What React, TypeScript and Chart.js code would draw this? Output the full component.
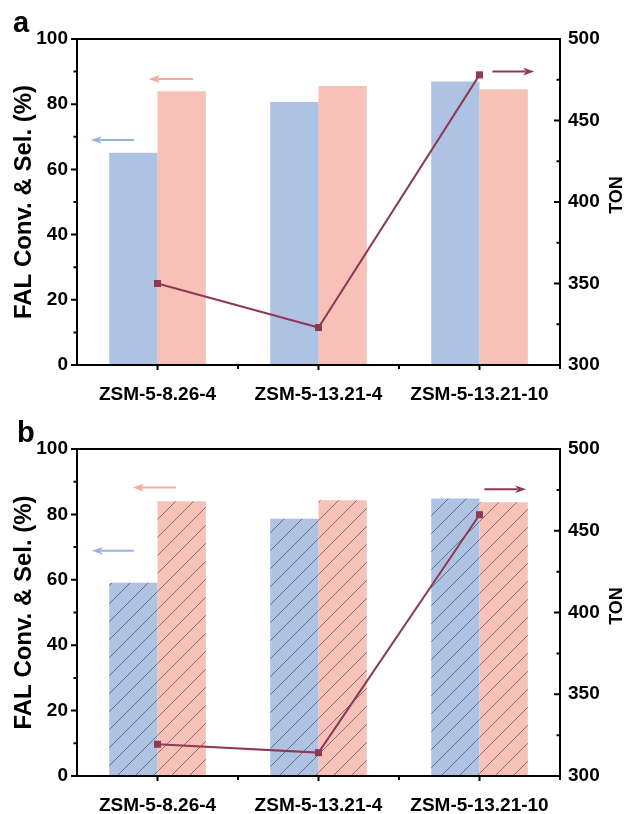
import React, { useEffect, useRef } from 'react';
import { Chart, registerables } from 'chart.js';
Chart.register(...registerables);

// ---------- data ----------
const categories = ['ZSM-5-8.26-4', 'ZSM-5-13.21-4', 'ZSM-5-13.21-10'];
const convA = [65.1, 80.7, 87.0];
const selA = [84.0, 85.6, 84.6];
const tonA = [350, 323, 478];
const convB = [59.1, 78.7, 84.9];
const selB = [84.0, 84.3, 83.7];
const tonB = [319.4, 314.3, 459.8];
const leftMin = 0, leftMax = 100, leftStep = 20;
const rightMin = 300, rightMax = 500, rightStep = 50;
const leftTitle = 'FAL Conv. & Sel. (%)';
const rightTitle = 'TON';

// arrow annotations: axis, value on that axis, tail/head in category index units
const arrowsA = [
  { axis: 'y', value: 69.0, tail: -0.147, head: -0.414, kind: 'blue' },
  { axis: 'y', value: 87.7, tail: 0.22, head: -0.054, kind: 'pink' },
  { axis: 'y1', value: 480, tail: 2.08, head: 2.34, kind: 'maroon' },
];
const arrowsB = [
  { axis: 'y', value: 68.9, tail: -0.147, head: -0.408, kind: 'blue' },
  { axis: 'y', value: 88.2, tail: 0.114, head: -0.153, kind: 'pink' },
  { axis: 'y1', value: 475.4, tail: 2.03, head: 2.29, kind: 'maroon' },
];

// ---------- styles ----------
const FONT = '"Liberation Sans", Arial, Helvetica, sans-serif';
const BLUE = '#AEC3E4';
const PINK = '#F7C1B8';
const MAROON = '#8C3A55';
const ARROW = { blue: '#98B2E0', pink: '#F4A79C', maroon: '#8C3A55' } as Record<string, string>;

function makeHatch(bg: string): CanvasPattern | string {
  const s = 18;
  const c = document.createElement('canvas');
  c.width = s; c.height = s;
  const g = c.getContext('2d');
  if (!g) return bg;
  g.fillStyle = bg; g.fillRect(0, 0, s, s);
  g.strokeStyle = 'rgba(60,60,60,0.6)';
  g.lineWidth = 1;
  g.beginPath();
  g.moveTo(0, s); g.lineTo(s, 0);
  g.moveTo(-s / 2, s / 2); g.lineTo(s / 2, -s / 2);
  g.moveTo(s / 2, s * 1.5); g.lineTo(s * 1.5, s / 2);
  g.stroke();
  return g.createPattern(c, 'repeat') || bg;
}

function framePlugin(label: string, labelX: number, labelY: number, tonY: number, arrows: any[]) {
  return {
    id: 'frame_' + label,
    afterDraw(chart: any) {
      const { ctx, chartArea, scales } = chart;
      const { left, right, top, bottom } = chartArea;
      ctx.save();
      ctx.strokeStyle = '#000';
      ctx.lineWidth = 2;
      ctx.lineCap = 'butt';
      ctx.strokeRect(left, top, right - left, bottom - top);
      ctx.beginPath();
      for (let v = leftMin; v <= leftMax; v += leftStep / 2) {
        const y = scales.y.getPixelForValue(v);
        const len = v % leftStep === 0 ? 6 : 3.5;
        ctx.moveTo(left - len, y); ctx.lineTo(left, y);
      }
      for (let v = rightMin; v <= rightMax; v += rightStep / 2) {
        const y = scales.y1.getPixelForValue(v);
        const len = v % rightStep === 0 ? 6 : 3.5;
        ctx.moveTo(right - len, y); ctx.lineTo(right, y);
      }
      for (let i = 0; i < categories.length; i += 0.5) {
        const x = scales.x.getPixelForValue(i);
        const len = Number.isInteger(i) ? 5 : 4;
        ctx.moveTo(x, bottom); ctx.lineTo(x, bottom + len);
      }
      ctx.stroke();

      // arrows
      for (const a of arrows) {
        const y = scales[a.axis].getPixelForValue(a.value);
        const xt = scales.x.getPixelForValue(a.tail);
        const xh = scales.x.getPixelForValue(a.head);
        const dir = xh > xt ? 1 : -1;
        const hl = 11, hw = 3.8;
        ctx.strokeStyle = ARROW[a.kind];
        ctx.fillStyle = ARROW[a.kind];
        ctx.lineWidth = 2;
        ctx.beginPath();
        ctx.moveTo(xt, y); ctx.lineTo(xh - dir * hl * 0.8, y);
        ctx.stroke();
        ctx.beginPath();
        ctx.moveTo(xh, y);
        ctx.lineTo(xh - dir * hl, y - hw);
        ctx.lineTo(xh - dir * hl * 0.75, y);
        ctx.lineTo(xh - dir * hl, y + hw);
        ctx.closePath();
        ctx.fill();
      }

      // right title
      ctx.fillStyle = '#000';
      ctx.font = `bold 18px ${FONT}`;
      ctx.textAlign = 'center';
      ctx.textBaseline = 'middle';
      ctx.translate(617, tonY);
      ctx.rotate(-Math.PI / 2);
      ctx.fillText(rightTitle, 0, 0);
      ctx.setTransform(1, 0, 0, 1, 0, 0);

      // panel label
      ctx.font = `bold 29px ${FONT}`;
      ctx.textAlign = 'left';
      ctx.textBaseline = 'alphabetic';
      ctx.fillText(label, labelX, labelY);
      ctx.restore();
    },
  };
}

function makeConfig(conv: number[], sel: number[], ton: number[], hatched: boolean, p: any): any {
  const blueFill = hatched ? makeHatch(BLUE) : BLUE;
  const pinkFill = hatched ? makeHatch(PINK) : PINK;
  return {
    type: 'bar',
    data: {
      labels: categories,
      datasets: [
        {
          type: 'line', label: 'TON', data: ton, yAxisID: 'y1', order: 0,
          borderColor: MAROON, backgroundColor: MAROON, borderWidth: 2,
          pointStyle: 'rect', pointRadius: 5, pointBackgroundColor: MAROON,
          pointBorderWidth: 0, tension: 0,
        },
        {
          type: 'bar', label: 'Conv.', data: conv, yAxisID: 'y', order: 1,
          backgroundColor: blueFill, borderWidth: 0,
          categoryPercentage: 0.6, barPercentage: 1.0,
        },
        {
          type: 'bar', label: 'Sel.', data: sel, yAxisID: 'y', order: 1,
          backgroundColor: pinkFill, borderWidth: 0,
          categoryPercentage: 0.6, barPercentage: 1.0,
        },
      ],
    },
    options: {
      responsive: false,
      animation: false,
      maintainAspectRatio: false,
      layout: { padding: { top: p.padTop, left: 0, right: 0, bottom: 0 } },
      plugins: { legend: { display: false }, tooltip: { enabled: false } },
      scales: {
        x: {
          type: 'category', offset: true,
          grid: { display: false, drawTicks: false }, border: { display: false },
          ticks: {
            color: '#000', font: { family: FONT, size: 19, weight: 'bold' },
            padding: p.xPad, maxRotation: 0, autoSkip: false,
          },
          afterFit: (s: any) => { s.height = p.xH; },
        },
        y: {
          position: 'left', min: leftMin, max: leftMax,
          grid: { display: false, drawTicks: false }, border: { display: false },
          ticks: { stepSize: leftStep, color: '#000', padding: 9, font: { family: FONT, size: 19, weight: 'bold' } },
          title: {
            display: true, text: leftTitle, color: '#000',
            font: { family: FONT, size: 24, weight: 'bold' }, padding: { top: 10, bottom: 0 },
          },
          afterFit: (s: any) => { s.width = 77; },
        },
        y1: {
          position: 'right', min: rightMin, max: rightMax,
          grid: { display: false, drawTicks: false }, border: { display: false },
          ticks: { stepSize: rightStep, color: '#000', padding: 8, font: { family: FONT, size: 19, weight: 'bold' } },
          afterFit: (s: any) => { s.width = 71; },
        },
      },
    },
    plugins: [framePlugin(p.label, p.labelX, p.labelY, p.tonY, p.arrows)],
  };
}

export default function App() {
  const refA = useRef<HTMLCanvasElement>(null);
  const refB = useRef<HTMLCanvasElement>(null);
  useEffect(() => {
    const a = new Chart(refA.current as HTMLCanvasElement, makeConfig(convA, selA, tonA, false, {
      padTop: 39, xH: 42, xPad: 18, label: 'a', labelX: 13, labelY: 32, tonY: 195, arrows: arrowsA,
    }));
    const b = new Chart(refB.current as HTMLCanvasElement, makeConfig(convB, selB, tonB, true, {
      padTop: 42, xH: 38, xPad: 18, label: 'b', labelX: 17, labelY: 35, tonY: 199, arrows: arrowsB,
    }));
    return () => { a.destroy(); b.destroy(); };
  }, []);
  return (
    <div style={{ position: 'absolute', left: 0, top: 0, width: 631, height: 814, background: '#fff' }}>
      <canvas ref={refA} width={631} height={407} style={{ position: 'absolute', left: 0, top: 0 }} />
      <canvas ref={refB} width={631} height={407} style={{ position: 'absolute', left: 0, top: 407 }} />
    </div>
  );
}
